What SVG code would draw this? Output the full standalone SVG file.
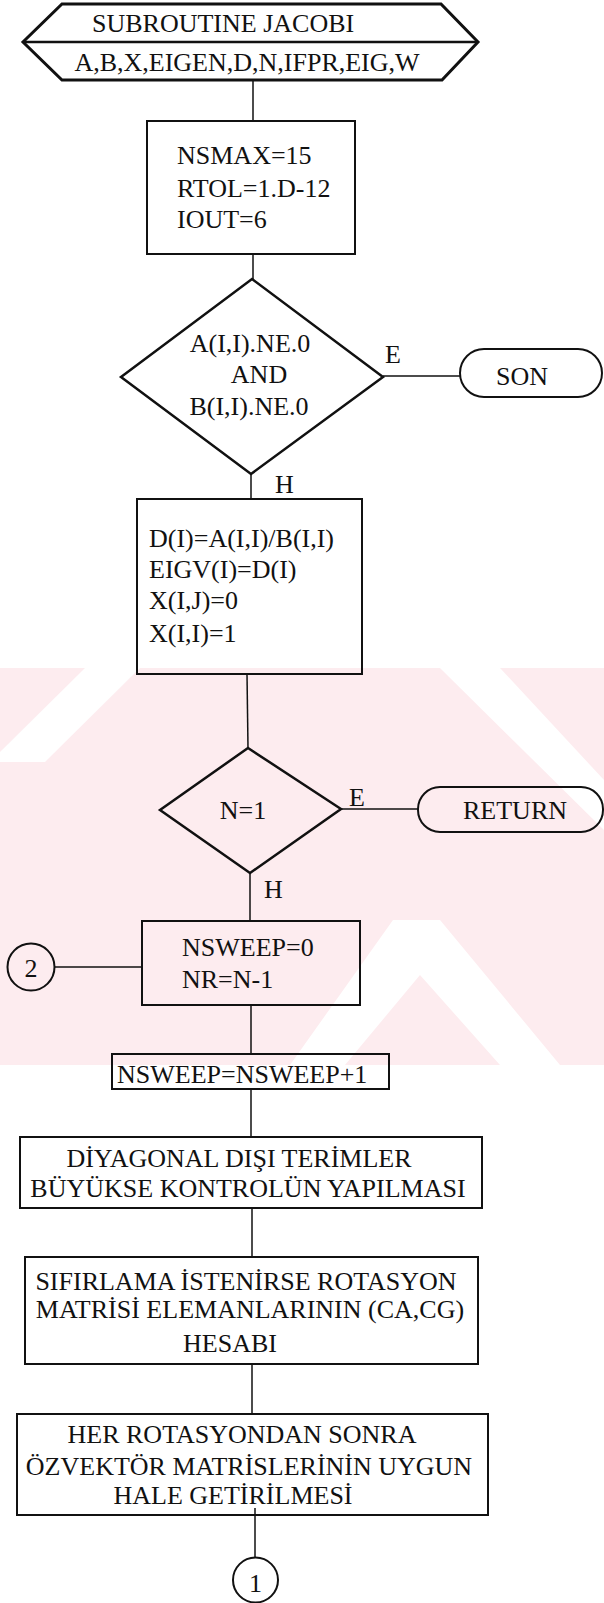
<svg xmlns="http://www.w3.org/2000/svg" width="604" height="1603" viewBox="0 0 604 1603">
<style>
text{font-family:"Liberation Serif","Times New Roman",serif;font-size:26px;fill:#111}
.c{text-anchor:middle}
.shape{fill:none;stroke:#111;stroke-width:2}
.hex{fill:none;stroke:#111;stroke-width:3;stroke-linejoin:miter}
.dia{fill:none;stroke:#111;stroke-width:2.5}
.conn line{stroke:#111;stroke-width:1.5}
</style>
<rect width="604" height="1603" fill="#fff"/>
<g id="watermark" fill="#fdecef">
<polygon points="0,668 604,668 604,1065 0,1065"/>
<polygon points="85,668 140,668 45,762 0,762 0,752" fill="#fff"/>
<polygon points="440,668 500,668 604,780 604,830" fill="#fff"/>
<polygon points="393,920 440,920 560,1065 500,1065 420,975 345,1065 290,1065" fill="#fff"/>
</g>
<g class="conn" id="connectors">
<line x1="253" y1="80" x2="253" y2="121"/>
<line x1="253" y1="254" x2="253" y2="279"/>
<line x1="383" y1="376" x2="460" y2="376"/>
<line x1="251" y1="474" x2="251" y2="499"/>
<line x1="247" y1="674" x2="248" y2="748"/>
<line x1="341" y1="809" x2="418" y2="809"/>
<line x1="250" y1="873" x2="250" y2="921"/>
<line x1="54.5" y1="967" x2="142" y2="967"/>
<line x1="251" y1="1005" x2="251" y2="1054"/>
<line x1="251" y1="1089" x2="251" y2="1137"/>
<line x1="252" y1="1208" x2="252" y2="1257"/>
<line x1="252" y1="1364" x2="252" y2="1414"/>
<line x1="255" y1="1508" x2="255" y2="1557"/>
</g>
<g id="n_start">
<polygon class="hex" points="62,4 441,4 478,42 442,80 62,80 23,42"/>
<line x1="23" y1="42" x2="478" y2="42" stroke="#111" stroke-width="2.5"/>
<text x="92" y="32">SUBROUTINE JACOBI</text>
<text class="c" x="247" y="71">A,B,X,EIGEN,D,N,IFPR,EIG,W</text>
</g>
<g id="n_init">
<rect class="shape" x="147" y="121" width="208" height="133"/>
<text x="177" y="164">NSMAX=15</text>
<text x="177" y="197">RTOL=1.D-12</text>
<text x="177" y="228">IOUT=6</text>
</g>
<g id="n_check">
<polygon class="dia" points="252,279 383,377 251,474 121,377"/>
<text class="c" x="250" y="352">A(I,I).NE.0</text>
<text class="c" x="259" y="383">AND</text>
<text class="c" x="249" y="415">B(I,I).NE.0</text>
<text x="385" y="363">E</text>
<text x="275" y="493">H</text>
</g>
<g id="n_son">
<rect class="shape" x="460" y="349" width="142" height="48" rx="24"/>
<text class="c" x="522" y="385">SON</text>
</g>
<g id="n_diag">
<rect class="shape" x="137" y="499" width="225" height="175"/>
<text x="149" y="547">D(I)=A(I,I)/B(I,I)</text>
<text x="149" y="578">EIGV(I)=D(I)</text>
<text x="149" y="609">X(I,J)=0</text>
<text x="149" y="642">X(I,I)=1</text>
</g>
<g id="n_n1">
<polygon class="dia" points="248,748 341,809 250,873 160,810"/>
<text class="c" x="243" y="819">N=1</text>
<text x="349" y="806">E</text>
<text x="264" y="898">H</text>
</g>
<g id="n_return">
<rect class="shape" x="418" y="787" width="185" height="45" rx="22"/>
<text class="c" x="515" y="819">RETURN</text>
</g>
<g id="n_sweep0">
<rect class="shape" x="142" y="921" width="218" height="84"/>
<text x="182" y="956">NSWEEP=0</text>
<text x="182" y="988">NR=N-1</text>
</g>
<g id="n_c2">
<circle class="shape" cx="31" cy="967" r="23.5"/>
<text class="c" x="31" y="977">2</text>
</g>
<g id="n_sweep1">
<rect class="shape" x="112" y="1054" width="277" height="35"/>
<text x="117" y="1083">NSWEEP=NSWEEP+1</text>
</g>
<g id="n_offdiag">
<rect class="shape" x="20" y="1137" width="462" height="71"/>
<text class="c" x="239" y="1167">DİYAGONAL DIŞI TERİMLER</text>
<text class="c" x="248" y="1197">BÜYÜKSE KONTROLÜN YAPILMASI</text>
</g>
<g id="n_rot">
<rect class="shape" x="25" y="1257" width="453" height="107"/>
<text class="c" x="246" y="1290">SIFIRLAMA İSTENİRSE ROTASYON</text>
<text class="c" x="250" y="1318">MATRİSİ ELEMANLARININ (CA,CG)</text>
<text class="c" x="230" y="1352">HESABI</text>
</g>
<g id="n_eig">
<rect class="shape" x="17" y="1414" width="471" height="101"/>
<text class="c" x="242" y="1443">HER ROTASYONDAN SONRA</text>
<text class="c" x="249" y="1475">ÖZVEKTÖR MATRİSLERİNİN UYGUN</text>
<text class="c" x="233" y="1504">HALE GETİRİLMESİ</text>
</g>
<g id="n_c1">
<circle class="shape" cx="255.5" cy="1580" r="22.5"/>
<text class="c" x="255.5" y="1592">1</text>
</g>
</svg>
